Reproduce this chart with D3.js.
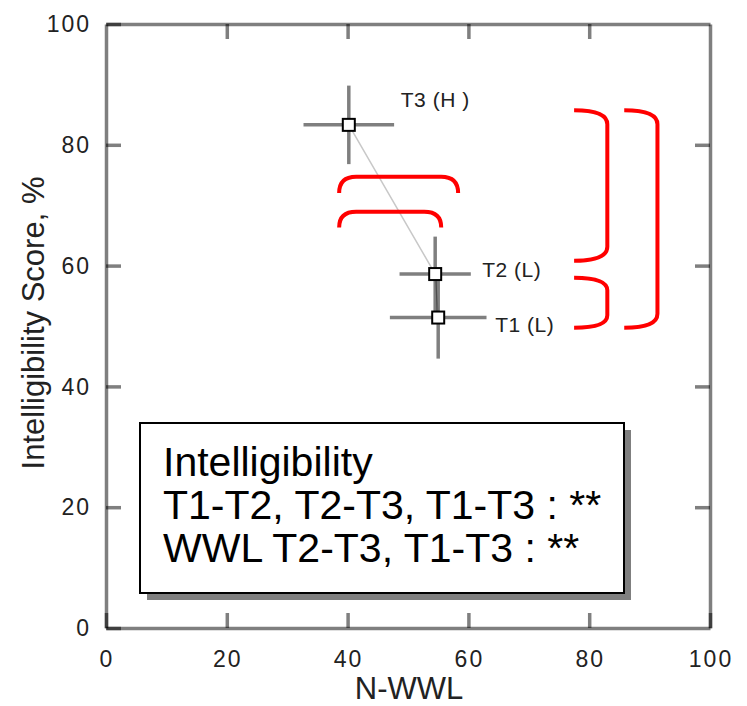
<!DOCTYPE html>
<html>
<head>
<meta charset="utf-8">
<script src="https://cdn.jsdelivr.net/npm/d3@7"></script>
<style>
  body { margin: 0; background: #fff; }
  svg text { font-family: "Liberation Sans", Arial, Helvetica, sans-serif; }
</style>
</head>
<body>
<svg id="chart" width="747" height="706"></svg>
<script>
// data
var names = ["T1 (L)", "T2 (L)", "T3 (H )"];
var nwwl = [55.0, 54.5, 40.2];
var nwwlErr = [8.0, 5.9, 7.5];
var score = [51.4, 58.6, 83.3];
var scoreErr = [6.8, 6.2, 6.5];
var ticks = [0, 20, 40, 60, 80, 100];
var noteLines = ["Intelligibility", "T1-T2, T2-T3, T1-T3 : **", "WWL T2-T3, T1-T3 : **"];

// red significance brackets, in data units
var hBrackets = [
  {x0: 38.6, x1: 58.3, top: 74.7, end: 72.0},
  {x0: 38.6, x1: 55.5, top: 68.9, end: 66.3}
];
var vBrackets = [
  {end: 77.5, spine: 83.0, y0: 85.7, y1: 60.8},
  {end: 77.5, spine: 83.0, y0: 58.0, y1: 49.7},
  {end: 85.8, spine: 91.3, y0: 85.7, y1: 49.7}
];

var svg = d3.select("#chart");

var xScale = d3.scaleLinear().domain([0, 100]).range([106, 710]);
var yScale = d3.scaleLinear().domain([0, 100]).range([628, 24]);

var axisStroke = function (g) {
  g.selectAll("path, line")
    .attr("stroke", "#000")
    .attr("stroke-opacity", 0.5)
    .attr("stroke-width", 3.5);
  g.selectAll("text").remove();
};

// frame: four axes with inward ticks
svg.append("g").attr("transform", "translate(0," + yScale(0) + ")")
  .call(d3.axisBottom(xScale).tickValues(ticks).tickSizeInner(-15).tickSizeOuter(0))
  .call(axisStroke);
svg.append("g").attr("transform", "translate(0," + yScale(100) + ")")
  .call(d3.axisTop(xScale).tickValues(ticks.slice(1, 5)).tickSizeInner(-15).tickSizeOuter(0))
  .call(axisStroke);
svg.append("g").attr("transform", "translate(" + xScale(0) + ",0)")
  .call(d3.axisLeft(yScale).tickValues(ticks).tickSizeInner(-15).tickSizeOuter(0))
  .call(axisStroke);
svg.append("g").attr("transform", "translate(" + xScale(100) + ",0)")
  .call(d3.axisRight(yScale).tickValues(ticks.slice(1, 5)).tickSizeInner(-15).tickSizeOuter(0))
  .call(axisStroke);

// tick labels
svg.append("g").selectAll("text").data(ticks).join("text")
  .attr("x", function (d) { return xScale(d) + 1; })
  .attr("y", 667)
  .attr("text-anchor", "middle")
  .attr("font-size", 23)
  .attr("letter-spacing", 2)
  .attr("fill", "#222")
  .text(function (d) { return d; });

svg.append("g").selectAll("text").data(ticks).join("text")
  .attr("x", 91)
  .attr("y", function (d) { return yScale(d); })
  .attr("dy", "0.36em")
  .attr("text-anchor", "end")
  .attr("font-size", 23)
  .attr("letter-spacing", 2)
  .attr("fill", "#222")
  .text(function (d) { return d; });

// axis titles
svg.append("text")
  .attr("x", 409).attr("y", 699)
  .attr("text-anchor", "middle")
  .attr("font-size", 31)
  .attr("fill", "#222")
  .text("N-WWL");

svg.append("text")
  .attr("transform", "translate(43.5,323) rotate(-90)")
  .attr("text-anchor", "middle")
  .attr("font-size", 31)
  .attr("fill", "#222")
  .text("Intelligibility Score, %");

// note box with shadow
var box = {x: 140, y: 423, w: 484, h: 170};
svg.append("rect")
  .attr("x", box.x + 7).attr("y", box.y + 7)
  .attr("width", box.w).attr("height", box.h)
  .attr("fill", "#7f7f7f");
svg.append("rect")
  .attr("x", box.x).attr("y", box.y)
  .attr("width", box.w).attr("height", box.h)
  .attr("fill", "#fff").attr("stroke", "#000").attr("stroke-width", 2);
svg.append("g").selectAll("text").data(noteLines).join("text")
  .attr("x", 163)
  .attr("y", function (d, i) { return 476 + i * 43; })
  .attr("font-size", 41)
  .attr("fill", "#000")
  .text(function (d) { return d; });

// connecting line between points
var pts = d3.range(names.length);
svg.append("path")
  .attr("d", d3.line()
    .x(function (i) { return xScale(nwwl[i]); })
    .y(function (i) { return yScale(score[i]); })(pts))
  .attr("fill", "none")
  .attr("stroke", "#c8c8c8")
  .attr("stroke-width", 1.5);

// error bars
var bars = svg.append("g")
  .attr("stroke", "#000").attr("stroke-opacity", 0.5).attr("stroke-width", 3.5);
bars.selectAll(".ex").data(pts).join("line")
  .attr("x1", function (i) { return xScale(nwwl[i] - nwwlErr[i]); })
  .attr("x2", function (i) { return xScale(nwwl[i] + nwwlErr[i]); })
  .attr("y1", function (i) { return yScale(score[i]); })
  .attr("y2", function (i) { return yScale(score[i]); });
bars.selectAll(".ey").data(pts).join("line")
  .attr("x1", function (i) { return xScale(nwwl[i]); })
  .attr("x2", function (i) { return xScale(nwwl[i]); })
  .attr("y1", function (i) { return yScale(score[i] - scoreErr[i]); })
  .attr("y2", function (i) { return yScale(score[i] + scoreErr[i]); });

// markers
svg.append("g").selectAll("rect").data(pts).join("rect")
  .attr("x", function (i) { return xScale(nwwl[i]) - 6; })
  .attr("y", function (i) { return yScale(score[i]) - 6; })
  .attr("width", 12).attr("height", 12)
  .attr("fill", "#fff").attr("stroke", "#000").attr("stroke-width", 2);

// point labels
var labelDx = [57, 47, 52];
var labelDy = [14, 3, -18];
svg.append("g").selectAll("text").data(pts).join("text")
  .attr("x", function (i) { return xScale(nwwl[i]) + labelDx[i]; })
  .attr("y", function (i) { return yScale(score[i]) + labelDy[i]; })
  .attr("font-size", 21)
  .attr("letter-spacing", 0.5)
  .attr("fill", "#222")
  .text(function (i) { return names[i]; });

// red brackets
var red = svg.append("g")
  .attr("fill", "none").attr("stroke", "#ff0000").attr("stroke-width", 4);

red.selectAll(".hb").data(hBrackets).join("path")
  .attr("d", function (b) {
    var x0 = xScale(b.x0), x1 = xScale(b.x1), yt = yScale(b.top), ye = yScale(b.end), r = 17;
    var p = d3.path();
    p.moveTo(x0, ye);
    p.quadraticCurveTo(x0, yt, x0 + r, yt);
    p.lineTo(x1 - r, yt);
    p.quadraticCurveTo(x1, yt, x1, ye);
    return p.toString();
  });

red.selectAll(".vb").data(vBrackets).join("path")
  .attr("d", function (b) {
    var xe = xScale(b.end), xs = xScale(b.spine), y0 = yScale(b.y0), y1 = yScale(b.y1);
    var r = Math.min(14, (y1 - y0) / 4);
    var p = d3.path();
    p.moveTo(xe, y0);
    p.quadraticCurveTo(xs, y0, xs, y0 + r);
    p.lineTo(xs, y1 - r);
    p.quadraticCurveTo(xs, y1, xe, y1);
    return p.toString();
  });
</script>
</body>
</html>
